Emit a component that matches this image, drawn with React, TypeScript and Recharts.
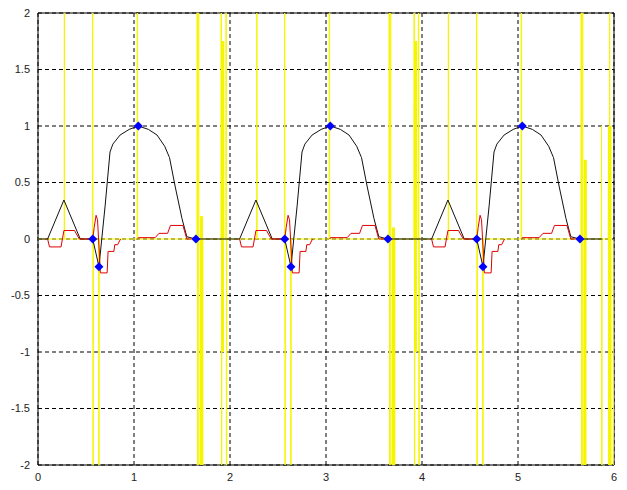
import { ComposedChart, Line, Scatter, XAxis, YAxis, CartesianGrid, ReferenceArea } from 'recharts'

const xTicks = [0, 1, 2, 3, 4, 5, 6]
const yTicks = [-2, -1.5, -1, -0.5, 0, 0.5, 1, 1.5, 2]

// the beat repeats every 2 s
const beatStarts = [0, 2, 4]

// black trace, one beat (time from beat start)
const ecgT = [0, 0.1, 0.27, 0.44, 0.57, 0.635, 0.7, 0.75, 0.78, 0.855, 0.95, 1.045, 1.15, 1.24, 1.32, 1.37, 1.43, 1.5, 1.55, 1.645, 1.88]
const ecgV = [0, 0, 0.345, 0, 0, -0.245, 0.3, 0.77, 0.84, 0.92, 0.97, 1, 0.97, 0.92, 0.82, 0.72, 0.46, 0.18, 0.02, 0, 0]

// red trace, one beat (null = gap)
const redT = [0.1, 0.12, 0.24, 0.27, 0.38, 0.43, 0.57, 0.585, 0.605, 0.62, 0.65, 0.72, 0.73, 0.79, 0.8, 0.83, 0.86, 0.87,
  1.04, 1.045, 1.22, 1.26, 1.35, 1.38, 1.51, 1.55, 1.6, 1.61]
const redV = [0, -0.07, -0.07, 0.075, 0.075, 0, 0, 0.1, 0.21, 0.17, -0.3, -0.3, -0.11, -0.11, -0.05, -0.05, 0, null,
  0, 0.012, 0.012, 0.05, 0.05, 0.12, 0.12, 0, 0, null]

// blue markers, one beat
const markT = [0.57, 0.635, 1.045, 1.645]
const markV = [0, -0.245, 1, 0]

// yellow trace (spikes run far off scale)
const yellowT = [
  0, 0.273, 0.275, 0.277, 0.567, 0.57, 0.574, 0.577, 0.632, 0.635, 0.638, 1.032, 1.035, 1.038,
  1.656, 1.659, 1.663, 1.674, 1.678, 1.694, 1.697, 1.7, 1.703, 1.706, 1.709, 1.712, 1.715, 1.718,
  1.906, 1.909, 1.913, 1.916, 1.919, 1.922, 1.925, 1.928, 1.931, 1.934, 1.937, 1.957, 1.96, 1.964, 1.967,
  2.278, 2.28, 2.282, 2.567, 2.57, 2.574, 2.577, 2.632, 2.635, 2.638, 3.032, 3.035, 3.038,
  3.656, 3.659, 3.663, 3.674, 3.678, 3.694, 3.697, 3.7, 3.703, 3.706, 3.709, 3.712, 3.715, 3.718,
  3.916, 3.919, 3.923, 3.926, 3.929, 3.932, 3.935, 3.938, 3.941, 3.944, 3.947, 3.962, 3.965, 3.969, 3.972,
  4.273, 4.275, 4.277, 4.567, 4.57, 4.574, 4.577, 4.632, 4.635, 4.638, 5.032, 5.035, 5.038,
  5.656, 5.659, 5.663, 5.674, 5.678, 5.691, 5.694, 5.697, 5.7, 5.703, 5.706, 5.709, 5.712,
  5.868, 5.87, 5.873, 5.876, 5.94, 5.943, 5.946, 5.949, 5.952, 5.955, 5.958, 5.961, 5.964, 5.967, 5.97, 6
]
const yellowV = [
  0, 0, 9, 0, 0, 9, -9, 0, 0, -9, 0, 0, 9, 0,
  0, 9, -9, 9, -9, 0.2, -9, 0.2, -9, 0.2, -9, 0.2, -9, 0,
  0, 9, -9, 1.75, -1, 1.75, -1, 1.75, -1, 1.75, 0, 0, 9, -9, 0,
  0, 9, 0, 0, 9, -9, 0, 0, -9, 0, 0, 9, 0,
  0, 9, -9, 9, -9, 0.1, -9, 0.1, -9, 0.1, -9, 0.1, -9, 0,
  0, 9, -9, 1.75, -1, 1.75, -1, 1.75, -1, 1.75, 0, 0, 9, -9, 0,
  0, 9, 0, 0, 9, -9, 0, 0, -9, 0, 0, 9, 0,
  0, 9, -9, 9, -9, 0.7, -9, 0.7, -9, 0.7, -9, 0.7, 0,
  0, 1, -9, 0, 0, 1, -9, 1, -9, 9, -9, 1, -9, 1, -9, 0, 0
]

const ecgData = beatStarts.flatMap(s => ecgT.map((t, i) => ({ x: s + t, y: ecgV[i] })))
const redData = beatStarts.flatMap(s => redT.map((t, i) => ({ x: s + t, y: redV[i] })))
const markData = beatStarts.flatMap(s => markT.map((t, i) => ({ x: s + t, y: markV[i] })))
const yellowData = yellowT.map((t, i) => ({ x: t, y: yellowV[i] }))

const tickStyle = { fontSize: 11, fill: '#222', fontFamily: 'Liberation Sans, Arial, sans-serif' }

// small filled diamond, same width and height
const Diamond = (props: any) => {
  const { cx, cy } = props
  const r = 4.5
  return <polygon points={`${cx},${cy - r} ${cx + r},${cy} ${cx},${cy + r} ${cx - r},${cy}`} fill="#0000ff" />
}

export default function App () {
  return (
    <ComposedChart width={619} height={482} margin={{ top: 5, right: 13, bottom: 0, left: 0 }}>
      <CartesianGrid stroke="#000" strokeDasharray="4 3" />
      <XAxis type="number" dataKey="x" domain={[0, 6]} ticks={xTicks} interval={0} allowDataOverflow
        tickLine={false} axisLine={false} height={25} tick={tickStyle} />
      <YAxis type="number" dataKey="y" domain={[-2, 2]} ticks={yTicks} interval={0} allowDataOverflow
        tickLine={false} axisLine={false} width={30} tick={tickStyle} />
      <Line data={yellowData} dataKey="y" type="linear" stroke="#f5f500" strokeWidth={1} dot={false} isAnimationActive={false} />
      <Line data={ecgData} dataKey="y" type="linear" stroke="#111" strokeWidth={1} dot={false} isAnimationActive={false} />
      <Line data={redData} dataKey="y" type="linear" stroke="#e00000" strokeWidth={1} dot={false} connectNulls={false} isAnimationActive={false} />
      <Scatter data={markData} dataKey="y" fill="#0000ff" shape={Diamond} isAnimationActive={false} />
      <ReferenceArea x1={0} x2={6} y1={-2} y2={2} fill="none" stroke="#000" strokeWidth={1} />
    </ComposedChart>
  )
}
